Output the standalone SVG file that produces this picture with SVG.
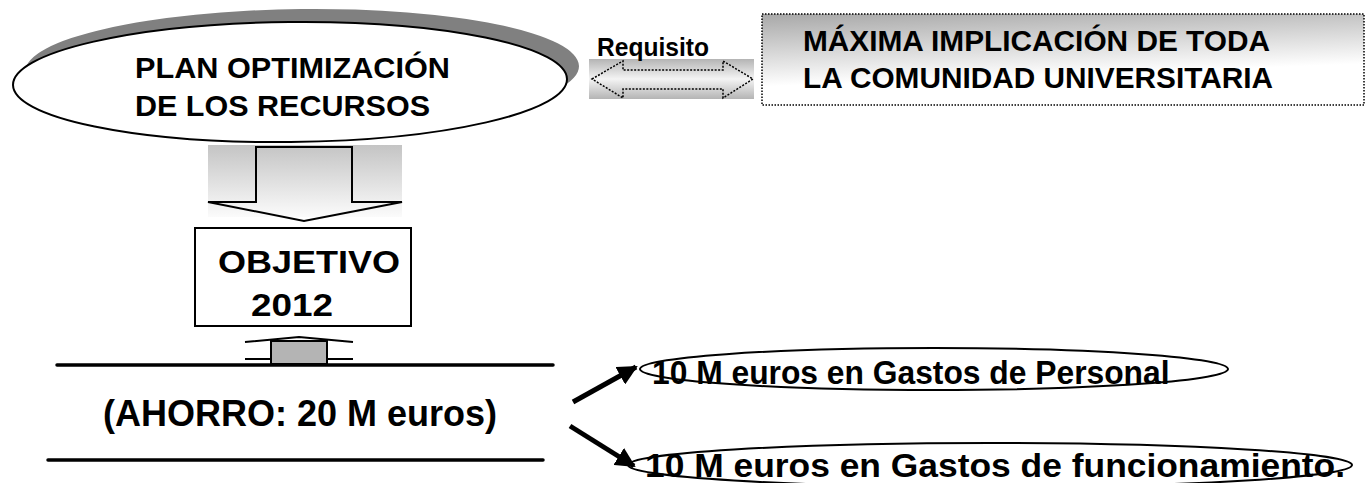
<svg xmlns="http://www.w3.org/2000/svg" width="1367" height="483" viewBox="0 0 1367 483">
<style>
.t{font-family:"Liberation Sans",Arial,sans-serif;font-weight:bold;fill:#000}
.ln{stroke:#000;stroke-width:3.5;stroke-linecap:round}
.ar{stroke:#000;stroke-width:5;fill:none}
</style>
<defs>
<linearGradient id="gDown" x1="0" y1="0" x2="0" y2="1">
<stop offset="0" stop-color="#c4c4c4"/><stop offset="1" stop-color="#fbfbfb"/>
</linearGradient>
<linearGradient id="gCyl" x1="0" y1="0" x2="0" y2="1">
<stop offset="0" stop-color="#b4b4b4"/><stop offset="0.5" stop-color="#f4f4f4"/><stop offset="1" stop-color="#b4b4b4"/>
</linearGradient>
<linearGradient id="gBox" x1="0" y1="0" x2="0.25" y2="1">
<stop offset="0" stop-color="#a8a8a8"/><stop offset="0.75" stop-color="#ffffff"/>
</linearGradient>
<marker id="ah" viewBox="0 0 10 10" refX="9" refY="5" markerWidth="4" markerHeight="4" orient="auto" markerUnits="strokeWidth">
<path d="M0,0 L10,5 L0,10 z" fill="#000"/>
</marker>
</defs>

<g id="plan">
<ellipse cx="302" cy="69" rx="277" ry="60" fill="#808080" transform="rotate(-0.6 302 69)"/>
<ellipse cx="290" cy="82" rx="277" ry="60" fill="#fff" stroke="#000" stroke-width="2" transform="rotate(-0.6 290 82)"/>
<text class="t" font-size="30" x="135" y="78" textLength="315" lengthAdjust="spacingAndGlyphs">PLAN OPTIMIZACIÓN</text>
<text class="t" font-size="30" x="135" y="116" textLength="295" lengthAdjust="spacingAndGlyphs">DE LOS RECURSOS</text>
</g>

<g id="requisito">
<rect x="589" y="59" width="165" height="40" fill="url(#gCyl)"/>
<polygon points="592,79 623,61 623,70 723,70 723,61 753,79 723,98 723,89 623,89 623,98" fill="none" stroke="#000" stroke-width="1.5" stroke-dasharray="2 1.5"/>
<text class="t" font-size="25" x="597" y="56" textLength="112" lengthAdjust="spacingAndGlyphs">Requisito</text>
</g>

<g id="implicacion">
<rect x="762" y="14" width="602" height="91" fill="url(#gBox)" stroke="#000" stroke-width="1.5" stroke-dasharray="1.5 1.5"/>
<text class="t" font-size="29" x="803" y="51" textLength="467" lengthAdjust="spacingAndGlyphs">MÁXIMA IMPLICACIÓN DE TODA</text>
<text class="t" font-size="29" x="803" y="88" textLength="470" lengthAdjust="spacingAndGlyphs">LA COMUNIDAD UNIVERSITARIA</text>
</g>

<g id="flecha-baja">
<rect x="208" y="145" width="194" height="72" fill="url(#gDown)"/>
<polygon points="256,147 352,147 352,202 402,202 304,221 208,202 256,202" fill="none" stroke="#000" stroke-width="2"/>
</g>

<g id="objetivo">
<rect x="195" y="228" width="216" height="98" fill="#fff" stroke="#000" stroke-width="2"/>
<text class="t" font-size="32" x="218" y="273" textLength="182" lengthAdjust="spacingAndGlyphs">OBJETIVO</text>
<text class="t" font-size="32" x="251" y="316" textLength="82" lengthAdjust="spacingAndGlyphs">2012</text>
</g>

<g id="flecha-sube">
<rect x="271" y="341" width="56" height="23" fill="#b4b4b4" stroke="#000" stroke-width="2"/>
<path d="M245,342 L299,337 L353,342 M245,359 L271,359 M327,359 L353,359" fill="none" stroke="#000" stroke-width="2"/>
</g>

<g id="ahorro">
<line class="ln" x1="57" y1="365" x2="553" y2="365"/>
<line class="ln" x1="48" y1="460" x2="543" y2="460"/>
<text class="t" font-size="36" x="103" y="426" textLength="394" lengthAdjust="spacingAndGlyphs">(AHORRO: 20 M euros)</text>
</g>

<g id="personal">
<ellipse cx="934" cy="369" rx="294" ry="21" fill="#fff" stroke="#000" stroke-width="2"/>
<text class="t" font-size="34" transform="translate(652 384) scale(0.9 1)" x="0" y="0" textLength="575" lengthAdjust="spacingAndGlyphs">10 M euros en Gastos de Personal</text>
</g>

<g id="funcionamiento">
<ellipse cx="990" cy="465" rx="362" ry="22" fill="#fff" stroke="#000" stroke-width="2"/>
<text class="t" font-size="33" x="645" y="477" textLength="700" lengthAdjust="spacingAndGlyphs">10 M euros en Gastos de funcionamiento.</text>
</g>

<g id="conectores">
<line class="ar" x1="573" y1="402" x2="636" y2="367" marker-end="url(#ah)"/>
<line class="ar" x1="570" y1="426" x2="634" y2="466" marker-end="url(#ah)"/>
</g>
</svg>
